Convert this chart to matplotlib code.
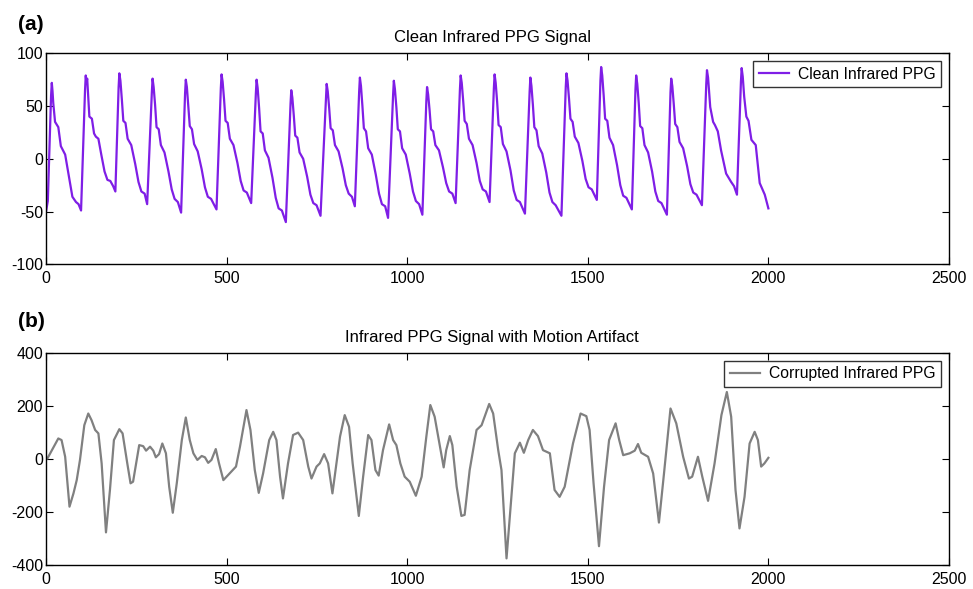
import matplotlib
matplotlib.use("Agg")
import matplotlib.pyplot as plt

plt.rcParams['font.family'] = ['Liberation Sans', 'DejaVu Sans']
plt.rcParams['axes.unicode_minus'] = False

# ---- Clean infrared PPG: vertices (sample index, value) ----
clean_x = [0, 5, 14, 16, 18, 20, 25, 34, 41, 53, 62, 73, 83, 90, 97,
           108, 110, 112, 114, 117, 120, 127, 133, 138, 145, 153, 162, 170, 178, 186, 192,
           201, 203, 206, 210, 214, 220, 226, 236, 247, 256, 264, 273, 280,
           293, 295, 298, 302, 306, 312, 318, 328, 339, 348, 356, 365, 374,
           385, 387, 390, 394, 398, 404, 410, 420, 431, 440, 448, 457, 472,
           484, 486, 489, 493, 497, 503, 509, 519, 530, 539, 547, 556, 568,
           581, 583, 586, 590, 594, 600, 606, 616, 627, 636, 644, 653, 664,
           677, 679, 682, 686, 690, 696, 702, 712, 723, 732, 740, 749, 760,
           775, 777, 780, 784, 788, 794, 800, 810, 821, 830, 838, 847, 855,
           867, 869, 872, 876, 880, 886, 892, 902, 913, 922, 930, 939, 947,
           961, 963, 966, 970, 974, 980, 986, 996, 1007, 1016, 1024, 1033, 1042,
           1053, 1055, 1058, 1062, 1066, 1072, 1078, 1088, 1099, 1108, 1116, 1125, 1134,
           1146, 1148, 1151, 1155, 1159, 1165, 1171, 1181, 1192, 1201, 1209, 1218, 1228,
           1240, 1242, 1245, 1249, 1253, 1259, 1265, 1275, 1286, 1295, 1303, 1312, 1326,
           1339, 1341, 1344, 1348, 1352, 1358, 1364, 1374, 1385, 1394, 1402, 1411, 1427,
           1439, 1441, 1444, 1448, 1452, 1458, 1464, 1474, 1485, 1494, 1502, 1511, 1525,
           1535, 1537, 1540, 1544, 1548, 1554, 1560, 1570, 1581, 1590, 1598, 1607, 1622,
           1632, 1634, 1637, 1641, 1645, 1651, 1657, 1667, 1678, 1687, 1695, 1704, 1719,
           1729, 1731, 1734, 1738, 1742, 1748, 1754, 1764, 1775, 1784, 1792, 1801, 1816,
           1828, 1830, 1833, 1839, 1847, 1852, 1860, 1869, 1883, 1897, 1905, 1913,
           1924, 1926, 1929, 1933, 1939, 1945, 1953, 1965, 1976, 1990, 2000]
clean_y = [-50, -40, 60, 72, 64, 53, 35, 30, 12, 4, -14, -36, -41, -43, -49,
           65, 79, 72, 76, 58, 40, 38, 24, 21, 19, 4, -12, -20, -21, -26, -31,
           68, 81, 74, 56, 36, 34, 19, 13, -5, -22, -31, -33, -43,
           63, 76, 68, 51, 30, 28, 13, 6, -12, -29, -38, -41, -51,
           62, 75, 68, 50, 31, 28, 14, 7, -10, -27, -36, -38, -48,
           67, 80, 73, 56, 36, 34, 19, 13, -4, -21, -30, -32, -42,
           62, 75, 67, 48, 26, 24, 8, 1, -18, -37, -47, -49, -60,
           52, 65, 58, 41, 22, 20, 6, 0, -17, -34, -42, -44, -54,
           58, 71, 64, 48, 29, 27, 13, 7, -9, -25, -33, -36, -45,
           64, 77, 69, 50, 29, 26, 10, 4, -15, -33, -43, -45, -56,
           61, 74, 66, 49, 28, 26, 10, 4, -14, -31, -40, -43, -53,
           55, 68, 61, 46, 28, 26, 13, 8, -8, -23, -31, -33, -42,
           66, 79, 72, 55, 36, 33, 19, 13, -4, -21, -29, -31, -41,
           67, 80, 72, 54, 32, 30, 14, 7, -11, -30, -39, -41, -52,
           64, 77, 69, 51, 30, 27, 12, 5, -13, -32, -41, -44, -54,
           68, 81, 74, 57, 38, 35, 21, 15, -2, -19, -27, -29, -39,
           74, 87, 79, 60, 38, 36, 20, 13, -6, -25, -35, -37, -48,
           66, 79, 71, 53, 31, 29, 13, 6, -12, -31, -40, -42, -53,
           63, 76, 69, 52, 33, 30, 16, 10, -7, -24, -32, -34, -44,
           71, 84, 77, 49, 35, 32, 26, 8, -14, -22, -26, -34,
           73, 86, 78, 59, 40, 36, 18, 13, -23, -34, -47]

# ---- Corrupted infrared PPG: vertices ----
corr_x = [4, 34, 43, 53, 65, 76, 85, 94, 106, 117, 126, 136, 145, 154, 166, 177, 188,
          203, 212, 225, 234, 241, 251, 258, 269, 277, 288, 297, 304, 313, 322, 332, 341,
          351, 362, 376, 387, 398, 408, 419, 431, 440, 449, 458, 470, 479, 491, 504, 517,
          526, 537, 555, 566, 578, 589, 601, 618, 629, 638, 648, 656, 670, 684, 698, 712,
          726, 735, 749, 758, 770, 781, 793, 804, 814, 827, 839, 849, 866, 878, 892, 901,
          912, 921, 933, 950, 961, 970, 981, 993, 1007, 1024, 1040, 1053, 1064, 1076, 1090,
          1101, 1108, 1118, 1125, 1137, 1150, 1159, 1173, 1192, 1206, 1227, 1238, 1252,
          1261, 1275, 1284, 1298, 1312, 1323, 1335, 1348, 1362, 1376, 1395, 1408, 1422,
          1436, 1459, 1480, 1496, 1505, 1516, 1531, 1545, 1559, 1577, 1587, 1598, 1616,
          1630, 1639, 1648, 1667, 1681, 1697, 1711, 1729, 1745, 1764, 1780, 1789, 1805,
          1817, 1833, 1851, 1870, 1885, 1897, 1909, 1920, 1934, 1948, 1962, 1971, 1980,
          1989, 2000]
corr_y = [2, 77, 71, 8, -180, -130, -80, -4, 127, 171, 146, 109, 96, -17, -277, -117, 71,
          112, 96, -17, -92, -86, -4, 52, 48, 31, 46, 31, 6, 18, 58, 21, -105,
          -203, -92, 71, 156, 71, 21, -4, 11, 6, -15, -4, 37, -17, -80, -61, -42,
          -29, 46, 184, 109, -42, -128, -55, 71, 102, 71, -67, -149, -17, 90, 99, 71,
          -29, -74, -29, -17, 18, -17, -130, -17, 84, 165, 121, -17, -215, -67, 90, 71,
          -42, -63, 33, 130, 71, 52, -17, -67, -86, -139, -67, 84, 203, 159, 52,
          -32, 33, 86, 52, -105, -215, -211, -42, 109, 127, 207, 171, 33,
          -42, -375, -218, 21, 61, 23, 71, 109, 86, 33, 21, -117, -143,
          -105, 58, 171, 161, 109, -92, -329, -105, 71, 134, 71, 14, 21,
          31, 56, 23, 8, -55, -240, -55, 190, 134, 8, -74, -67, 8,
          -67, -158, -17, 165, 252, 159, -117, -262, -143, 58, 102, 71, -29,
          -17, 4]

xticks = [0, 500, 1000, 1500, 2000, 2500]
yticks_a = [-100, -50, 0, 50, 100]
yticks_b = [-400, -200, 0, 200, 400]

fig = plt.figure(figsize=(9.73, 5.89), dpi=100)
ax1 = fig.add_axes([0.0473, 0.5513, 0.928, 0.3582])
ax2 = fig.add_axes([0.0473, 0.0407, 0.928, 0.3604])

ax1.plot(clean_x, clean_y, color='#7f1ee6', lw=1.6, label='Clean Infrared PPG',
         solid_joinstyle='round')
ax2.plot(corr_x, corr_y, color='#808080', lw=1.6, label='Corrupted Infrared PPG',
         solid_joinstyle='round')

for ax, yt, title in [(ax1, yticks_a, 'Clean Infrared PPG Signal'),
                      (ax2, yticks_b, 'Infrared PPG Signal with Motion Artifact')]:
    ax.set_xlim(0, 2500)
    ax.set_ylim(yt[0], yt[-1])
    ax.set_xticks(xticks)
    ax.set_yticks(yt)
    ax.tick_params(direction='in', top=True, right=True, labelsize=11.5, length=5,
                   width=0.8)
    ax.tick_params(axis='y', pad=2)
    ax.tick_params(axis='x', pad=5)
    for s in ax.spines.values():
        s.set_linewidth(1.0)
    ax.set_title(title, fontsize=12, pad=8, x=0.494)
    leg = ax.legend(loc='upper right', fontsize=11.3, frameon=True, fancybox=False,
                    borderaxespad=0.5, handlelength=1.9, handletextpad=0.6,
                    borderpad=0.35)
    leg.get_frame().set_edgecolor('black')
    leg.get_frame().set_linewidth(1.0)

fig.text(0.018, 0.958, '(a)', fontsize=15, fontweight='bold', va='center')
fig.text(0.018, 0.455, '(b)', fontsize=15, fontweight='bold', va='center')

fig.savefig('out.png', dpi=100)
